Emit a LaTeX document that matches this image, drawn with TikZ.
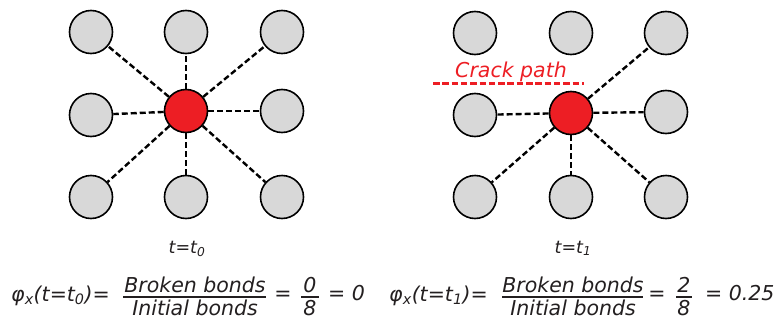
\documentclass[tikz,border=0pt]{standalone}
\usepackage{fontspec}
\setmainfont{DejaVu Sans}
\definecolor{atomgray}{RGB}{216,216,216}
\definecolor{corered}{RGB}{237,30,36}
\definecolor{ink}{RGB}{35,31,32}
\newcommand\lowsub[1]{\textsubscript{#1}}
\begin{document}
\begin{tikzpicture}[x=1pt,y=-1pt,
  atom/.style={circle,draw=black,line width=1.6pt,fill=atomgray,minimum size=43pt,inner sep=0pt},
  core/.style={atom,fill=corered},
  bond/.style={line width=2.4pt,dash pattern=on 6pt off 3pt},
  crackline/.style={corered,line width=3pt,dash pattern=on 6.5pt off 2.8pt},
  eqtxt/.style={inner sep=0pt,font=\fontsize{20.5}{24}\selectfont\itshape,text=ink},
  timetxt/.style={inner sep=0pt,font=\fontsize{17.5}{21}\selectfont\itshape,text=ink},
  fracbar/.style={draw=ink,line width=1.1pt}]
\useasboundingbox (0,0) rectangle (775,324);

% ---------- left lattice ----------
\node[atom] (L11) at (91,32) {};
\node[atom] (L12) at (186,32) {};
\node[atom] (L13) at (282,32) {};
\node[atom] (L21) at (91,115) {};
\node[core] (L22) at (186,111) {};
\node[atom] (L23) at (282,111) {};
\node[atom] (L31) at (91,197) {};
\node[atom] (L32) at (186,197) {};
\node[atom] (L33) at (282,197) {};
\foreach \n in {L11,L12,L13,L21,L23,L31,L32,L33}
  \draw[bond] (L22) -- (\n);

% ---------- right lattice ----------
\node[atom] (R11) at (475,33) {};
\node[atom] (R12) at (571,33) {};
\node[atom] (R13) at (666,33) {};
\node[atom] (R21) at (475,115) {};
\node[core] (R22) at (571,113) {};
\node[atom] (R23) at (666,112) {};
\node[atom] (R31) at (475,197) {};
\node[atom] (R32) at (571,197) {};
\node[atom] (R33) at (666,197) {};
\foreach \n in {R13,R21,R23,R31,R32,R33}
  \draw[bond] (R22) -- (\n);

% crack path
\node[eqtxt,text=corered,anchor=base] (crack) at (511,77) {Crack path};
\coordinate (ck1) at (433,83);
\coordinate (ck2) at (584,83);
\draw[crackline] (ck1) -- (ck2);

% time labels
\node[timetxt,anchor=base] (t0) at (187,253) {t=t\lowsub{0}};
\node[timetxt,anchor=base] (t1) at (573,253) {t=t\lowsub{1}};

% ---------- left formula ----------
\node[eqtxt,anchor=base east] (phiL) at (110,301) {φ\lowsub{x}(t=t\lowsub{0})=};
\node[eqtxt,anchor=base] (numL) at (195,292) {Broken bonds};
\node[eqtxt,anchor=base] (denL) at (195,315) {Initial bonds};
\coordinate (bL1) at (123,297); \coordinate (bL2) at (266,297);
\draw[fracbar] (bL1) -- (bL2);
\node[eqtxt,anchor=base] (eqL) at (283,300) {=};
\node[eqtxt,anchor=base] (nL) at (310,292) {0};
\node[eqtxt,anchor=base] (dL) at (310,315) {8};
\coordinate (sL1) at (301,297); \coordinate (sL2) at (319,297);
\draw[fracbar] (sL1) -- (sL2);
\node[eqtxt,anchor=base west] (resL) at (328,300) {= 0};

% ---------- right formula ----------
\node[eqtxt,anchor=base east] (phiR) at (488,301) {φ\lowsub{x}(t=t\lowsub{1})=};
\node[eqtxt,anchor=base] (numR) at (573,292) {Broken bonds};
\node[eqtxt,anchor=base] (denR) at (573,315) {Initial bonds};
\coordinate (bR1) at (502,297); \coordinate (bR2) at (643,297);
\draw[fracbar] (bR1) -- (bR2);
\node[eqtxt,anchor=base] (eqR) at (657,300) {=};
\node[eqtxt,anchor=base] (nR) at (684,292) {2};
\node[eqtxt,anchor=base] (dR) at (684,315) {8};
\coordinate (sR1) at (676,297); \coordinate (sR2) at (692,297);
\draw[fracbar] (sR1) -- (sR2);
\node[eqtxt,anchor=base west] (resR) at (705,300) {= 0.25};
\end{tikzpicture}
\end{document}
